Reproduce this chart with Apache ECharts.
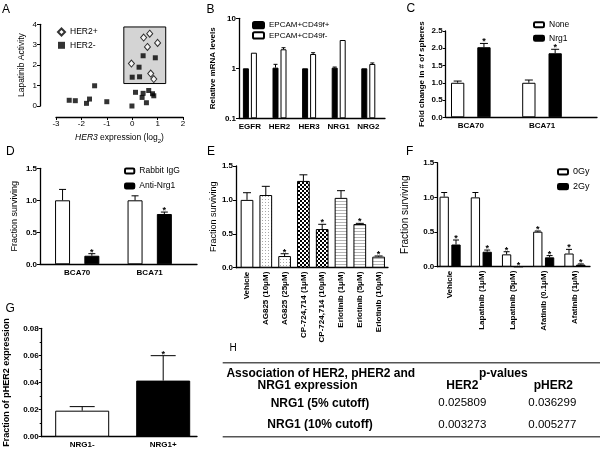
<!DOCTYPE html>
<html>
<head>
<meta charset="utf-8">
<script src="https://cdn.jsdelivr.net/npm/echarts@6/dist/echarts.min.js"></script>
<style>
  html, body { margin: 0; padding: 0; background: #fff; }
  #chart { width: 603px; height: 450px; }
</style>
</head>
<body>
<div id="chart"></div>
<script>
// ---- A: lapatinib activity vs HER3 expression
const her2PosX = [0.69, 0.45, 1.0, 0.6, -0.03, 0.73, 0.85];
const her2PosY = [3.54, 3.35, 3.09, 2.89, 2.08, 1.59, 1.32];
const her2NegX = [0.43, 0.91, 0.27, 0.0, 0.29, 0.13, 0.43, 0.65, 0.85, 0.8, 0.39, 0.56, -0.01, -1.48, -1.68, -1.8, -2.48, -2.24, -1.0];
const her2NegY = [2.46, 2.36, 1.9, 1.41, 1.43, 0.67, 0.62, 0.76, 0.5, 0.6, 0.42, 0.16, 0.0, 0.99, 0.34, 0.13, 0.28, 0.26, 0.21];
const her2PosBox = [[-0.33, 1.1], [1.32, 3.87]];

// ---- B: relative mRNA levels
const genes = ['EGFR', 'HER2', 'HER3', 'NRG1', 'NRG2'];
const cd49fPos = [1, 1.03, 1, 1.03, 1];
const cd49fPosErr = [0, 0.17, 0, 0.03, 0];
const cd49fNeg = [2.05, 2.4, 1.93, 3.68, 1.22];
const cd49fNegErr = [0, 0.18, 0.12, 0, 0.06];

// ---- C: spheres
const cellLines = ['BCA70', 'BCA71'];
const sphNone = [1.0, 1.0];
const sphNoneErr = [0.05, 0.08];
const sphNrg1 = [2.03, 1.855];
const sphNrg1Err = [0.11, 0.115];
const sphNrg1Star = [1, 1];

// ---- D: antibody
const iggSurv = [1.0, 1.0];
const iggErr = [0.17, 0.07];
const antiSurv = [0.134, 0.786];
const antiErr = [0.032, 0.03];
const antiStar = [1, 1];

// ---- E: inhibitors
const drugs = ['Vehicle', 'AG825 (10μM)', 'AG825 (25μM)', 'CP-724,714 (1μM)', 'CP-724,714 (10μM)', 'Erlotinib (1μM)', 'Erlotinib (5μM)', 'Erlotinib (10μM)'];
const drugSurv = [1.0, 1.072, 0.172, 1.28, 0.57, 1.03, 0.644, 0.163];
const drugErr = [0.106, 0.128, 0.034, 0.09, 0.07, 0.106, 0.01, 0.01];
const drugStar = [0, 0, 1, 0, 1, 0, 1, 1];
const drugFill = ['plain', 'dots', 'dots', 'checker', 'checker', 'stripes', 'stripes', 'stripes'];

// ---- F: radiation
const treats = ['Vehicle', 'Lapatinib (1μM)', 'Lapatinib (5μM)', 'Afatinib (0.1μM)', 'Afatinib (1μM)'];
const gy0 = [1.01, 1.0, 0.178, 0.505, 0.19];
const gy0Err = [0.06, 0.07, 0.038, 0.01, 0.06];
const gy0Star = [0, 0, 1, 1, 1];
const gy2 = [0.32, 0.216, 0, 0.135, 0.03];
const gy2Err = [0.065, 0.024, 0, 0.025, 0.01];
const gy2Star = [1, 1, 1, 1, 1];

// ---- G: pHER2
const nrgGroups = ['NRG1-', 'NRG1+'];
const pher2 = [0.0192, 0.0414];
const pher2Err = [0.003, 0.0184];
const pher2Star = [0, 1];

// ---- H: table
const tableRows = ['NRG1 (5% cutoff)', 'NRG1 (10% cutoff)'];
const pHer2 = ['0.025809', '0.003273'];
const pPher2 = ['0.036299', '0.005277'];

const FONT = '"Liberation Sans", Arial, sans-serif';
const BLACK = '#000';

const grid = [], xAxis = [], yAxis = [], series = [], legend = [], graphic = [];

function axisLine() {
  return { show: true, onZero: false, lineStyle: { color: BLACK, width: 1.3 } };
}

// axis frame (y axis with ticks + bare x axis line)
function frame(p) {
  const g = grid.push({ left: p.x0, top: p.yTop, width: p.x1 - p.x0, height: p.yZero - p.yTop, outerBoundsMode: 'none' }) - 1;
  xAxis.push({ gridIndex: g, type: 'value', min: 0, max: 1, axisLine: axisLine(), axisTick: { show: false }, axisLabel: { show: false }, splitLine: { show: false } });
  const y = {
    gridIndex: g, type: p.log ? 'log' : 'value', min: p.min, max: p.max,
    axisLine: axisLine(),
    axisTick: { length: 3, lineStyle: { color: BLACK, width: 1 } },
    axisLabel: { fontSize: 8, fontWeight: 'bold', color: BLACK, fontFamily: FONT, margin: 3, formatter: p.fmt },
    splitLine: { show: false },
    name: p.name, nameLocation: 'middle', nameGap: p.nameGap,
    nameTextStyle: { fontSize: p.nameSize, fontWeight: p.nameBold ? 'bold' : 'normal', color: BLACK, fontFamily: FONT },
  };
  if (p.log) y.logBase = 10; else y.interval = p.interval;
  if (p.minor) y.minorTick = { show: true, splitNumber: p.minor, length: 2, lineStyle: { color: BLACK } };
  yAxis.push(y);
}

// grid that holds the bars (category positions)
function barGrid(p) {
  const g = grid.push({ left: p.left, top: p.yTop, width: p.band * p.cats.length, height: p.yZero - p.yTop, outerBoundsMode: 'none' }) - 1;
  const xi = xAxis.push({
    gridIndex: g, type: 'category', data: p.cats,
    axisLine: { show: false }, axisTick: { show: false }, splitLine: { show: false },
    axisLabel: { interval: 0, rotate: p.rotate || 0, fontSize: p.labelSize || 8, fontWeight: 'bold', color: BLACK, fontFamily: FONT, margin: p.labelMargin || 4 },
  }) - 1;
  const y = { gridIndex: g, type: p.log ? 'log' : 'value', min: p.min, max: p.max, show: false };
  if (p.log) { y.logBase = 10; y.startValue = p.min; }
  const yi = yAxis.push(y) - 1;
  return { xi, yi };
}

function bars(ax, name, data, color, width, gap) {
  series.push({
    name, type: 'bar', xAxisIndex: ax.xi, yAxisIndex: ax.yi, data,
    barWidth: width, barGap: (gap / width * 100) + '%',
    itemStyle: { color, borderColor: BLACK, borderWidth: 1 },
    silent: true, animation: false,
  });
}

function errBars(ax, values, errs, stars, offset, cap) {
  series.push({
    type: 'custom', xAxisIndex: ax.xi, yAxisIndex: ax.yi, silent: true, animation: false, z: 5,
    data: values.map((v, i) => [i, v, errs[i], stars ? stars[i] : 0]),
    renderItem(params, api) {
      const i = api.value(0), v = api.value(1), e = api.value(2);
      const b = api.coord([i, v]);
      const t = api.coord([i, v + e]);
      const x = b[0] + offset;
      const kids = [];
      if (e > 0) {
        kids.push({ type: 'line', shape: { x1: x, y1: b[1], x2: x, y2: t[1] }, style: { stroke: BLACK, lineWidth: 1 } });
        kids.push({ type: 'line', shape: { x1: x - cap / 2, y1: t[1], x2: x + cap / 2, y2: t[1] }, style: { stroke: BLACK, lineWidth: 1 } });
      }
      if (api.value(3)) {
        kids.push({ type: 'text', style: { text: '*', x, y: t[1] + 3, align: 'center', verticalAlign: 'bottom', font: 'bold 9px ' + FONT, fill: BLACK } });
      }
      return { type: 'group', children: kids };
    },
  });
}

function addLegend(names, left, top, w, h, gap, size) {
  legend.push({
    data: names, orient: 'vertical', left, top, padding: 0,
    itemWidth: w, itemHeight: h, itemGap: gap, selectedMode: false,
    textStyle: { fontSize: size, color: BLACK, fontFamily: FONT, lineHeight: h },
  });
}

function pattern(kind) {
  const c = document.createElement('canvas');
  if (kind === 'dots') {
    c.width = 3; c.height = 3;
    const x = c.getContext('2d');
    x.fillStyle = '#fff'; x.fillRect(0, 0, 3, 3);
    x.fillStyle = '#a8a8a8'; x.fillRect(1, 1, 1, 1);
  } else if (kind === 'checker') {
    c.width = 4; c.height = 4;
    const x = c.getContext('2d');
    x.fillStyle = '#fff'; x.fillRect(0, 0, 4, 4);
    x.fillStyle = '#000'; x.fillRect(0, 0, 2, 2); x.fillRect(2, 2, 2, 2);
  } else if (kind === 'stripes') {
    c.width = 4; c.height = 3;
    const x = c.getContext('2d');
    x.fillStyle = '#fff'; x.fillRect(0, 0, 4, 3);
    x.fillStyle = '#b4b4b4'; x.fillRect(0, 0, 4, 1);
  } else {
    return '#fff';
  }
  return { image: c, repeat: 'repeat' };
}

const fmt1 = (v) => v.toFixed(1);

// ================= A =================
{
  const g = grid.push({ left: 56, top: 24.3, width: 127, height: 81.7, outerBoundsMode: 'none' }) - 1;
  const xi = xAxis.push({
    gridIndex: g, type: 'value', min: -3, max: 2, interval: 1, offset: 11,
    axisLine: axisLine(), axisTick: { length: 3, lineStyle: { color: BLACK } },
    axisLabel: { fontSize: 8, color: BLACK, fontFamily: FONT, margin: 3 }, splitLine: { show: false },
    name: '{i|HER3} expression (log{s|2})', nameLocation: 'middle', nameGap: 15,
    nameTextStyle: {
      fontSize: 8.5, color: BLACK, fontFamily: FONT,
      rich: { i: { fontStyle: 'italic', fontSize: 8.5, fontFamily: FONT, lineHeight: 12 }, s: { fontSize: 6, fontFamily: FONT, verticalAlign: 'bottom', lineHeight: 12 } },
    },
  }) - 1;
  const yi = yAxis.push({
    gridIndex: g, type: 'value', min: 0, max: 4, interval: 1, offset: 16,
    axisLine: axisLine(), axisTick: { length: 3, lineStyle: { color: BLACK } },
    axisLabel: { fontSize: 8, color: BLACK, fontFamily: FONT, margin: 3 }, splitLine: { show: false },
    name: 'Lapatinib Activity', nameLocation: 'middle', nameGap: 14,
    nameTextStyle: { fontSize: 8.5, color: BLACK, fontFamily: FONT },
  }) - 1;
  series.push({
    name: 'HER2-', type: 'scatter', xAxisIndex: xi, yAxisIndex: yi, symbol: 'rect', symbolSize: 5,
    data: her2NegX.map((x, i) => [x, her2NegY[i]]), itemStyle: { color: BLACK }, z: 3, silent: true, animation: false,
    markArea: { silent: true, itemStyle: { color: '#d4d4d4', borderColor: BLACK, borderWidth: 1 }, data: [[{ coord: her2PosBox[0] }, { coord: her2PosBox[1] }]] },
  });
  series.push({
    name: 'HER2+', type: 'scatter', xAxisIndex: xi, yAxisIndex: yi, symbol: 'diamond', symbolSize: [6, 7],
    data: her2PosX.map((x, i) => [x, her2PosY[i]]), itemStyle: { color: '#fff', borderColor: BLACK, borderWidth: 1 }, z: 4, silent: true, animation: false,
  });
  addLegend(['HER2+', 'HER2-'], 57, 27.5, 7, 7, 4.3, 8.5);
}

// ================= B =================
{
  const p = { x0: 239, x1: 385, yTop: 18.3, yZero: 118.3, min: 0.1, max: 10, log: true, fmt: (v) => String(+v.toFixed(1)), name: 'Relative mRNA levels', nameBold: true, nameSize: 8, nameGap: 22 };
  frame(p);
  const ax = barGrid({ left: 235.1, band: 29.6, cats: genes, yTop: p.yTop, yZero: p.yZero, min: 0.1, max: 10, log: true });
  bars(ax, 'EPCAM+CD49f+', cd49fPos, BLACK, 6, 2);
  bars(ax, 'EPCAM+CD49f-', cd49fNeg, '#fff', 6, 2);
  errBars(ax, cd49fPos, cd49fPosErr, null, -4, 4);
  errBars(ax, cd49fNeg, cd49fNegErr, null, 4, 4);
  addLegend(['EPCAM+CD49f+', 'EPCAM+CD49f-'], 252, 20.9, 11, 6.3, 2, 8);
}

// ================= C =================
{
  const p = { x0: 445.7, x1: 597, yTop: 31, yZero: 117.3, min: 0, max: 2.5, interval: 0.5, fmt: fmt1, name: 'Fold change in # of spheres', nameBold: true, nameSize: 8, nameGap: 20 };
  frame(p);
  const ax = barGrid({ left: 435.2, band: 71.2, cats: cellLines, yTop: p.yTop, yZero: p.yZero, min: 0, max: 2.5 });
  bars(ax, 'None', sphNone, '#fff', 13.3, 13);
  bars(ax, 'Nrg1', sphNrg1, BLACK, 13.3, 13);
  errBars(ax, sphNone, sphNoneErr, null, -13.15, 8);
  errBars(ax, sphNrg1, sphNrg1Err, sphNrg1Star, 13.15, 8);
  addLegend(['None', 'Nrg1'], 533, 20.2, 10, 5, 4.6, 8.5);
}

// ================= D =================
{
  const p = { x0: 40, x1: 197, yTop: 168.3, yZero: 264.3, min: 0, max: 1.5, interval: 0.5, fmt: fmt1, name: 'Fraction surviving', nameSize: 9, nameGap: 20.5 };
  frame(p);
  const ax = barGrid({ left: 40.95, band: 72.5, cats: cellLines, yTop: p.yTop, yZero: p.yZero, min: 0, max: 1.5 });
  bars(ax, 'Rabbit IgG', iggSurv, '#fff', 15, 14.3);
  bars(ax, 'Anti-Nrg1', antiSurv, BLACK, 15, 14.3);
  errBars(ax, iggSurv, iggErr, null, -14.65, 7);
  errBars(ax, antiSurv, antiErr, antiStar, 14.65, 7);
  addLegend(['Rabbit IgG', 'Anti-Nrg1'], 124, 166.5, 9.3, 5, 6, 8.5);
}

// ================= E =================
{
  const p = { x0: 236, x1: 388, yTop: 166, yZero: 267.7, min: 0, max: 1.5, interval: 0.5, fmt: fmt1, name: 'Fraction surviving', nameSize: 9, nameGap: 15 };
  frame(p);
  const ax = barGrid({ left: 237.6, band: 18.8, cats: drugs, yTop: p.yTop, yZero: p.yZero, min: 0, max: 1.5, rotate: 90, labelSize: 8, labelMargin: 4 });
  const data = drugSurv.map((v, i) => ({ value: v, itemStyle: { color: pattern(drugFill[i]) } }));
  bars(ax, 'drugs', data, '#fff', 12.7, 0);
  errBars(ax, drugSurv, drugErr, drugStar, 0, 8);
}

// ================= F =================
{
  const p = { x0: 437.3, x1: 590, yTop: 162.7, yZero: 266.7, min: 0, max: 1.5, interval: 0.5, fmt: fmt1, name: 'Fraction surviving', nameSize: 10, nameGap: 27 };
  frame(p);
  const ax = barGrid({ left: 434.5, band: 31.2, cats: treats, yTop: p.yTop, yZero: p.yZero, min: 0, max: 1.5, rotate: 90, labelSize: 8, labelMargin: 4 });
  bars(ax, '0Gy', gy0, '#fff', 9.3, 2.5);
  bars(ax, '2Gy', gy2, BLACK, 9.3, 2.5);
  errBars(ax, gy0, gy0Err, gy0Star, -5.9, 6);
  errBars(ax, gy2, gy2Err, gy2Star, 5.9, 6);
  addLegend(['0Gy', '2Gy'], 557, 167.4, 10, 5.3, 5.7, 9);
}

// ================= G =================
{
  const p = { x0: 41.7, x1: 197, yTop: 328.3, yZero: 436.7, min: 0, max: 0.08, interval: 0.02, fmt: (v) => v.toFixed(2), name: 'Fraction of pHER2 expression', nameBold: true, nameSize: 9, nameGap: 31, minor: 2 };
  frame(p);
  const ax = barGrid({ left: 41.7, band: 81, cats: nrgGroups, yTop: p.yTop, yZero: p.yZero, min: 0, max: 0.08 });
  const data = pher2.map((v, i) => ({ value: v, itemStyle: { color: i === 0 ? '#fff' : BLACK } }));
  bars(ax, 'pher2', data, '#fff', 54, 0);
  errBars(ax, pher2, pher2Err, pher2Star, 0, 25);
}

// ================= panel letters =================
[['A', 2, 4], ['B', 206.5, 3.5], ['C', 406.5, 3], ['D', 6, 146], ['E', 207, 146], ['F', 406, 146], ['G', 5.5, 303]].forEach(([t, l, tp]) => {
  graphic.push({ type: 'text', left: l, top: tp, style: { text: t, font: '12px ' + FONT, fill: BLACK } });
});
graphic.push({ type: 'text', left: 229.5, top: 343, style: { text: 'H', font: '10px ' + FONT, fill: BLACK } });

// ================= H: table =================
const HEAD = 'bold 12px ' + FONT;
const CELL = '11.5px ' + FONT;
function cell(text, x, y, font) {
  graphic.push({ type: 'text', x, y, style: { text, font, fill: BLACK, align: 'center', verticalAlign: 'middle' } });
}
graphic.push({ type: 'line', shape: { x1: 222.7, y1: 362.7, x2: 600, y2: 362.7 }, style: { stroke: '#555', lineWidth: 1.5 } });
graphic.push({ type: 'line', shape: { x1: 222.7, y1: 436.7, x2: 600, y2: 436.7 }, style: { stroke: '#555', lineWidth: 1.5 } });
cell('Association of HER2, pHER2 and', 320.8, 373.3, HEAD);
cell('NRG1 expression', 307.5, 386, HEAD);
cell('p-values', 503.3, 373.3, HEAD);
cell('HER2', 462.3, 386, HEAD);
cell('pHER2', 553.3, 386, HEAD);
tableRows.forEach((r, i) => {
  const y = [403.3, 425][i];
  cell(r, 320, y, HEAD);
  cell(pHer2[i], 462.3, y, CELL);
  cell(pPher2[i], 552.3, y, CELL);
});

const chart = echarts.init(document.getElementById('chart'), null, { renderer: 'canvas' });
chart.setOption({
  animation: false,
  backgroundColor: '#fff',
  textStyle: { fontFamily: FONT },
  tooltip: { show: false },
  grid, xAxis, yAxis, series, legend, graphic,
});
</script>
</body>
</html>
